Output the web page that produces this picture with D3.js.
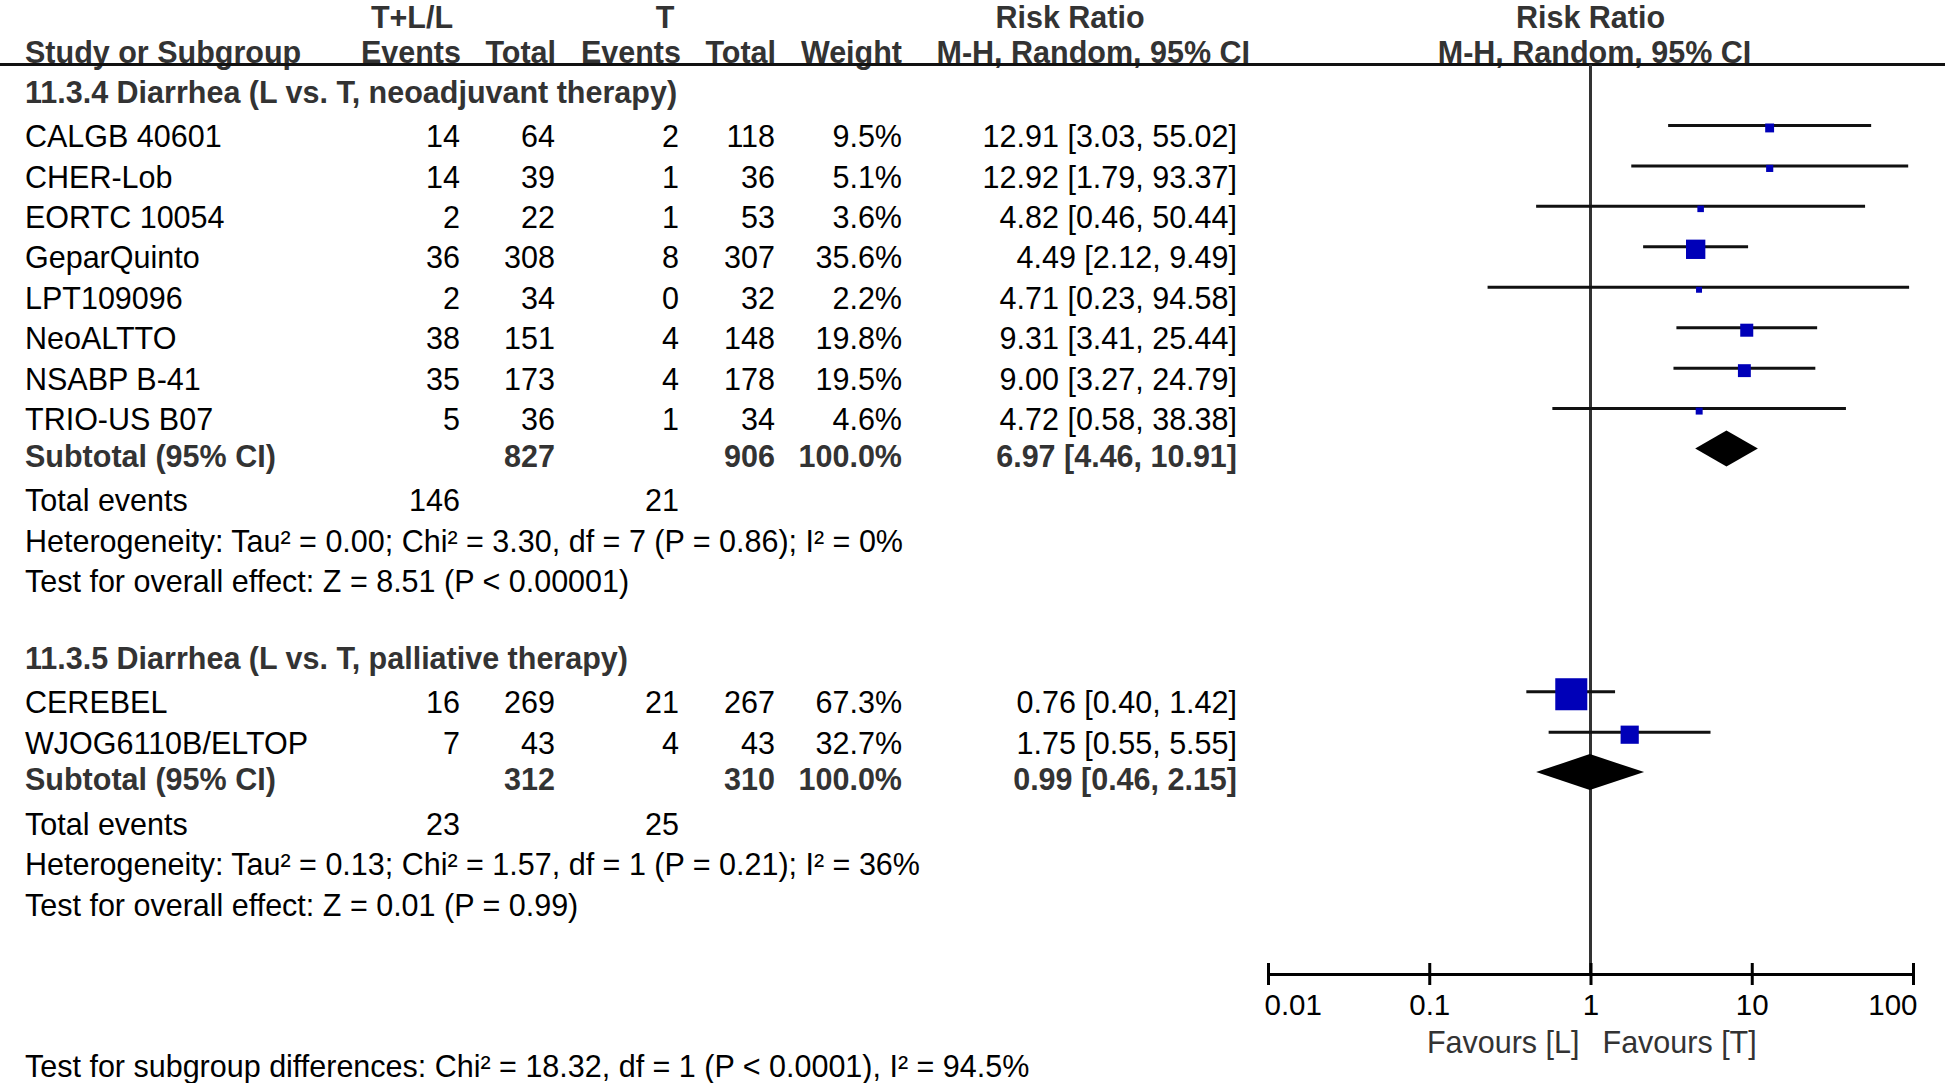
<!DOCTYPE html>
<html>
<head>
<meta charset="utf-8">
<script src="https://cdn.jsdelivr.net/npm/d3@7"></script>
<style>
  body { margin: 0; background: #fff; }
  text { font-family: "Liberation Sans", Arial, sans-serif; }
</style>
</head>
<body>
<script>
((() => {

// ---- data ----
// subgroup 11.3.4
let studies1 = ["CALGB 40601", "CHER-Lob", "EORTC 10054", "GeparQuinto", "LPT109096", "NeoALTTO", "NSABP B-41", "TRIO-US B07"];
let eventsA1 = [14, 14, 2, 36, 2, 38, 35, 5];
let totalA1  = [64, 39, 22, 308, 34, 151, 173, 36];
let eventsB1 = [2, 1, 1, 8, 0, 4, 4, 1];
let totalB1  = [118, 36, 53, 307, 32, 148, 178, 34];
let weight1  = [9.5, 5.1, 3.6, 35.6, 2.2, 19.8, 19.5, 4.6];
let rr1      = [12.91, 12.92, 4.82, 4.49, 4.71, 9.31, 9.00, 4.72];
let lo1      = [3.03, 1.79, 0.46, 2.12, 0.23, 3.41, 3.27, 0.58];
let hi1      = [55.02, 93.37, 50.44, 9.49, 94.58, 25.44, 24.79, 38.38];

// subgroup 11.3.5
let studies2 = ["CEREBEL", "WJOG6110B/ELTOP"];
let eventsA2 = [16, 7];
let totalA2  = [269, 43];
let eventsB2 = [21, 4];
let totalB2  = [267, 43];
let weight2  = [67.3, 32.7];
let rr2      = [0.76, 1.75];
let lo2      = [0.40, 0.55];
let hi2      = [1.42, 5.55];

// subtotals: [estimate, lower, upper]
let subRR     = [[6.97, 4.46, 10.91], [0.99, 0.46, 2.15]];
let subTotals = [[827, 906], [312, 310]];
let subEvents = [[146, 21], [23, 25]];
let groupTitles = ["11.3.4 Diarrhea (L vs. T, neoadjuvant therapy)", "11.3.5 Diarrhea (L vs. T, palliative therapy)"];
let hetTexts = [
  "Heterogeneity: Tau\u00b2 = 0.00; Chi\u00b2 = 3.30, df = 7 (P = 0.86); I\u00b2 = 0%",
  "Heterogeneity: Tau\u00b2 = 0.13; Chi\u00b2 = 1.57, df = 1 (P = 0.21); I\u00b2 = 36%"
];
let effectTexts = [
  "Test for overall effect: Z = 8.51 (P < 0.00001)",
  "Test for overall effect: Z = 0.01 (P = 0.99)"
];
let subgroupDiffText = "Test for subgroup differences: Chi\u00b2 = 18.32, df = 1 (P < 0.0001), I\u00b2 = 94.5%";

let tickValues = [0.01, 0.1, 1, 10, 100];
let tickLabels = ["0.01", "0.1", "1", "10", "100"];

let groups = [
  {start: 0,  names: studies1, evA: eventsA1, totA: totalA1, evB: eventsB1, totB: totalB1, w: weight1, rr: rr1, lo: lo1, hi: hi1},
  {start: 14, names: studies2, evA: eventsA2, totA: totalA2, evB: eventsB2, totB: totalB2, w: weight2, rr: rr2, lo: lo2, hi: hi2}
];

// ---- layout ----
let width = 1945, height = 1083;
let fs = 30.5;
let col = {name: 25, evA: 460, totA: 555, evB: 679, totB: 775, weight: 902, ci: 1237};
let axisY = 974;
let headLineY = 64.5;

let svg = d3.select('body')
  .append('svg')
    .attr('width', width)
    .attr('height', height)
    .style('background', '#fff');

// scales
let x = d3.scaleLog()
  .domain([0.01, 100])
  .range([1268, 1913]);

let row = d3.scaleLinear()   // row index -> text centre
  .domain([0, 1])
  .range([96, 136.45]);

let size = d3.scaleLinear()  // weight -> square side
  .domain([0, 100])
  .range([5.1, 45.1]);

let f2 = d3.format('.2f');
let f1 = d3.format('.1f');

function txt(px, py, s, anchor, bold, color) {
  return svg.append('text')
    .attr('x', px)
    .attr('y', py)
    .attr('dy', '0.35em')
    .attr('text-anchor', anchor || 'start')
    .attr('font-size', fs)
    .attr('font-weight', bold ? 'bold' : 'normal')
    .attr('fill', color || '#000')
    .text(s);
}

// ---- header ----
let hc = '#333';
txt(412, 17.5, 'T+L/L', 'middle', true, hc);
txt(665, 17.5, 'T', 'middle', true, hc);
txt(1070, 17.5, 'Risk Ratio', 'middle', true, hc);
txt(x(1), 17.5, 'Risk Ratio', 'middle', true, hc);

txt(col.name, 52, 'Study or Subgroup', 'start', true, hc);
txt(col.evA + 1, 52, 'Events', 'end', true, hc);
txt(col.totA + 1, 52, 'Total', 'end', true, hc);
txt(col.evB + 2, 52, 'Events', 'end', true, hc);
txt(col.totB + 1, 52, 'Total', 'end', true, hc);
txt(col.weight, 52, 'Weight', 'end', true, hc);
txt(1250, 52, 'M-H, Random, 95% CI', 'end', true, hc);
txt(x(1) + 4, 52, 'M-H, Random, 95% CI', 'middle', true, hc);

svg.append('line')
  .attr('x1', 0).attr('x2', width)
  .attr('y1', headLineY).attr('y2', headLineY)
  .attr('stroke', '#111')
  .attr('stroke-width', 3);

// line of no effect
svg.append('line')
  .attr('x1', x(1)).attr('x2', x(1))
  .attr('y1', headLineY).attr('y2', axisY)
  .attr('stroke', '#333')
  .attr('stroke-width', 3);

// ---- groups ----
groups.forEach(function(g, gi) {
  let n = g.names.length;
  txt(col.name, row(g.start) - 3.7, groupTitles[gi], 'start', true, hc);

  g.names.forEach(function(name, i) {
    let yy = row(g.start + 1 + i);
    txt(col.name, yy, name);
    txt(col.evA, yy, g.evA[i], 'end');
    txt(col.totA, yy, g.totA[i], 'end');
    txt(col.evB, yy, g.evB[i], 'end');
    txt(col.totB, yy, g.totB[i], 'end');
    txt(col.weight, yy, f1(g.w[i]) + '%', 'end');
    txt(col.ci, yy, f2(g.rr[i]) + ' [' + f2(g.lo[i]) + ', ' + f2(g.hi[i]) + ']', 'end');
  });

  // CI lines
  let idx = d3.range(n);
  let plot = svg.append('g');
  plot.selectAll('line.ci')
    .data(idx)
    .enter()
    .append('line')
      .attr('class', 'ci')
      .attr('x1', function(i) { return x(g.lo[i]); })
      .attr('x2', function(i) { return x(g.hi[i]); })
      .attr('y1', function(i) { return row(g.start + 1 + i) - 11; })
      .attr('y2', function(i) { return row(g.start + 1 + i) - 11; })
      .attr('stroke', '#111')
      .attr('stroke-width', 3);

  plot.selectAll('rect')
    .data(idx)
    .enter()
    .append('rect')
      .attr('x', function(i) { return x(g.rr[i]) - size(g.w[i]) / 2; })
      .attr('y', function(i) { return row(g.start + 1 + i) - 11 + 2.5 - size(g.w[i]) / 2; })
      .attr('width', function(i) { return size(g.w[i]); })
      .attr('height', function(i) { return size(g.w[i]); })
      .attr('fill', '#0000b8');

  // subtotal row
  let ys = row(g.start + n + 0.9);
  txt(col.name, ys, 'Subtotal (95% CI)', 'start', true, hc);
  txt(col.totA, ys, subTotals[gi][0], 'end', true, hc);
  txt(col.totB, ys, subTotals[gi][1], 'end', true, hc);
  txt(col.weight, ys, '100.0%', 'end', true, hc);
  let s = subRR[gi];
  txt(col.ci, ys, f2(s[0]) + ' [' + f2(s[1]) + ', ' + f2(s[2]) + ']', 'end', true, hc);

  let yd = ys - 7.5, hh = 18;
  svg.append('path')
    .attr('d', 'M' + x(s[1]) + ',' + yd +
               'L' + x(s[0]) + ',' + (yd - hh) +
               'L' + x(s[2]) + ',' + yd +
               'L' + x(s[0]) + ',' + (yd + hh) + 'Z')
    .attr('fill', '#000');

  let ye = row(g.start + n + 2);
  txt(col.name, ye, 'Total events');
  txt(col.evA, ye, subEvents[gi][0], 'end');
  txt(col.evB, ye, subEvents[gi][1], 'end');
  txt(col.name, row(g.start + n + 3), hetTexts[gi]);
  txt(col.name, row(g.start + n + 4), effectTexts[gi]);
});

// ---- axis ----
let axis = svg.append('g')
  .attr('transform', `translate(0,${axisY})`)
  .call(d3.axisBottom(x)
    .tickValues(tickValues)
    .tickFormat(function(d, i) { return tickLabels[i]; })
    .tickSize(11)
    .tickSizeOuter(0)
    .tickPadding(9));

axis.select('.domain')
  .attr('stroke', '#000')
  .attr('stroke-width', 3);
axis.selectAll('.tick line')
  .attr('y1', -11)
  .attr('stroke', '#000')
  .attr('stroke-width', 3);
axis.selectAll('.tick text')
  .attr('font-size', 29.5)
  .attr('font-family', '"Liberation Sans", Arial, sans-serif')
  .attr('fill', '#000')
  .attr('text-anchor', function(d, i) { return i === 0 ? 'start' : (i === tickValues.length - 1 ? 'end' : 'middle'); })
  .attr('dx', function(d, i) { return i === 0 ? -4 : (i === tickValues.length - 1 ? 4 : 0); });

txt(x(1) - 11, 1042, 'Favours [L]', 'end', false, '#333');
txt(x(1) + 12, 1042, 'Favours [T]', 'start', false, '#333');

txt(col.name, row(24), subgroupDiffText);

})());
</script>
</body>
</html>
